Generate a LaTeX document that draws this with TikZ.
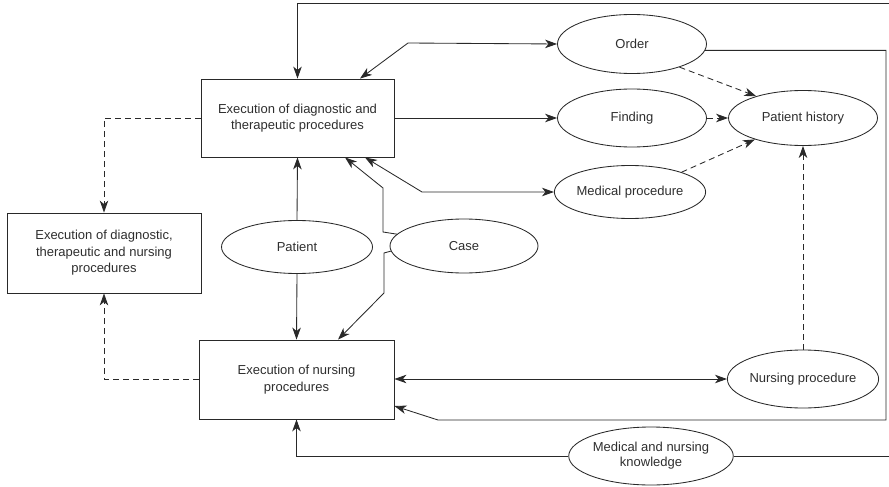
\documentclass[tikz,border=0pt]{standalone}
\usepackage{fontspec}
\setmainfont{Liberation Sans}
\usetikzlibrary{shapes.geometric,arrows.meta}

\definecolor{linegray}{gray}{0.16}
\definecolor{textgray}{gray}{0.18}

\begin{document}
\begin{tikzpicture}[x=1pt,y=-1pt,
  ink/.style={draw=linegray, line width=0.85pt},
  label/.style={align=center, inner sep=0pt, text=textgray,
    font=\fontsize{13}{16.5}\selectfont},
  box/.style={ink, label, rectangle},
  oval/.style={ink, label, ellipse},
  tip/.tip={Stealth[length=12pt,width=8.5pt,inset=3.5pt]},
  flow/.style={ink, -tip},
  both/.style={ink, tip-tip},
  ref/.style={flow, dash pattern=on 6pt off 4pt}
]
\useasboundingbox (0,0) rectangle (889,487);

% procedure boxes
\node[box, minimum width=193pt, minimum height=78pt] (diag) at (297.5,118)
  {Execution of diagnostic and\\therapeutic procedures};
\node[box, minimum width=194pt, minimum height=80pt] (all) at (104,253)
  {Execution of diagnostic,\\therapeutic and nursing\\procedures};
\node[box, minimum width=195pt, minimum height=79pt] (nurs) at (296.5,379.5)
  {Execution of nursing\\procedures};

% information objects
\node[oval, minimum width=149pt, minimum height=59pt] (order) at (632,44) {Order};
\node[oval, minimum width=149pt, minimum height=58pt] (finding) at (632,118) {Finding};
\node[oval, minimum width=149pt, minimum height=55pt] (history) at (803,118) {Patient history};
\node[oval, minimum width=146pt, minimum height=53pt] (medproc) at (630,192) {Medical procedure};
\node[oval, minimum width=151pt, minimum height=53pt] (patient) at (297,247) {Patient};
\node[oval, minimum width=148pt, minimum height=54pt] (case) at (464,246) {Case};
\node[oval, minimum width=147pt, minimum height=58pt] (nursproc) at (803,379) {Nursing procedure};
\node[oval, minimum width=147pt, minimum height=58pt,
  font=\fontsize{13}{15}\selectfont] (knowledge) at (651,456)
  {Medical and nursing\\knowledge};

% lines leaving the picture on the right
\coordinate (topright) at (889,3);
\coordinate (knowright) at (889,456);

% solid connectors
\draw[flow] (topright) -| (diag.north);
\draw[both] ([xshift=62.5pt]diag.north) -- (408,43) -- (order.west);
\draw[flow] (diag.east) -- (finding.west);
\draw[both] ([xshift=67.5pt]diag.south) -- (422,192) -- (medproc.west);
\draw[flow] (patient.north) -- (diag.south);
\draw[flow] (patient.south) -- (nurs.north);
\draw[flow] (case.170) -- (383,232) -- (383,188) -- ([xshift=47.5pt]diag.south);
\draw[flow] (case.184) -- (384,253) -- (384,293) -- ([xshift=41.5pt]nurs.north);
\draw[both] (nurs.east |- nursproc.west) -- (nursproc.west);
\draw[flow] (order.-5) -| (886,420) -- (438,420) -- ([yshift=-26.5pt]nurs.east);
\draw[flow] (knowledge.west) -| (nurs.south);
\draw[ink] (knowledge.east) -- (knowright);

% dashed connectors
\draw[ref] (diag.west) -| (all.north);
\draw[ref] (nurs.west) -| (all.south);
\draw[ref] (order.-26) -- (history.155);
\draw[ref] (finding.east) -- (history.west);
\draw[ref] (medproc.21) -- (history.204);
\draw[ref] (nursproc.north) -- (history.south);
\end{tikzpicture}
\end{document}
